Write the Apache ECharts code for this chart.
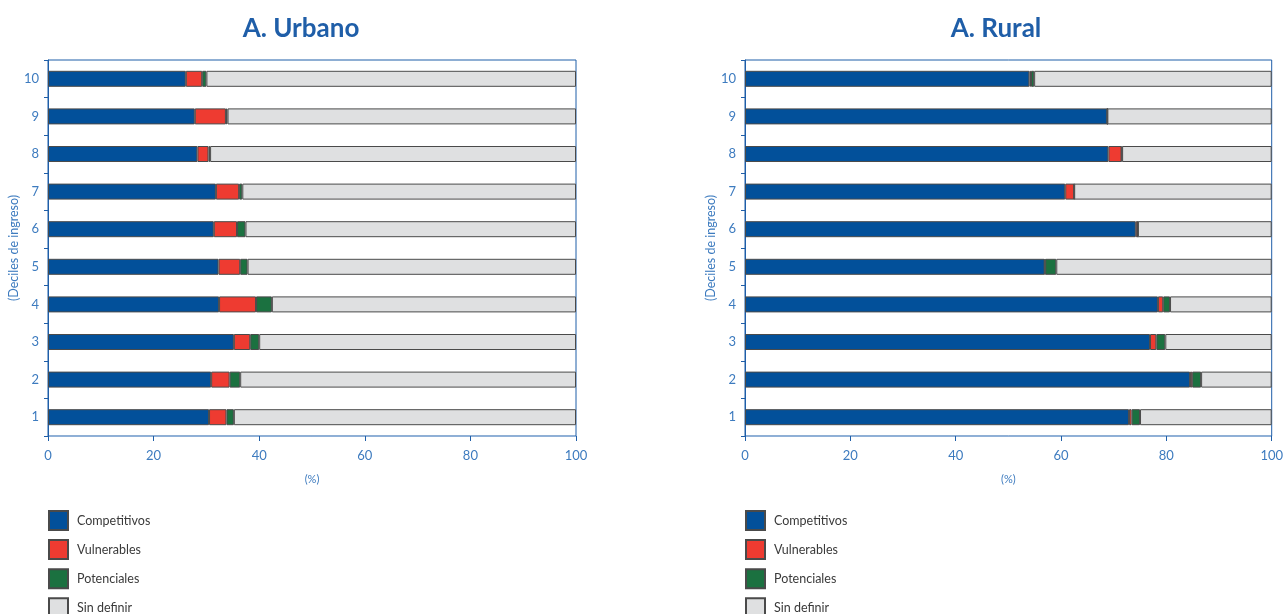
<!DOCTYPE html>
<html lang="es">
<head>
<meta charset="utf-8">
<title>Deciles de ingreso</title>
<script src="https://cdn.jsdelivr.net/npm/echarts@6/dist/echarts.min.js"></script>
<style>
	html,body{margin:0;padding:0;background:#fff;}
	#chart{width:1286px;height:614px;}
</style>
</head>
<body>
<div id="chart"></div>
<script>
// deciles 1..10 (de abajo hacia arriba)
var deciles=['1','2','3','4','5','6','7','8','9','10'];
var xTicks=[0,20,40,60,80,100];
var seriesNames=['Competitivos','Vulnerables','Potenciales','Sin definir'];

// A. Urbano (%)
var urbCompetitivos=[30.5,30.9,35.2,32.4,32.3,31.4,31.8,28.3,27.8,26.1];
var urbVulnerables=[3.3,3.5,3.1,7.0,4.1,4.4,4.4,2.1,5.9,3.1];
var urbPotenciales=[1.4,2.0,1.7,3.0,1.4,1.6,0.6,0.3,0.3,0.8];
var urbSinDefinir=[64.8,63.6,60.0,57.6,62.2,62.6,63.2,69.3,66.0,70.0];

// A. Rural (%)
var rurCompetitivos=[72.9,84.5,76.9,78.4,56.9,74.2,60.8,69.0,68.8,54.0];
var rurVulnerables=[0.5,0.4,1.2,1.0,0.1,0.4,1.7,2.5,0.0,0.3];
var rurPotenciales=[1.6,1.7,1.7,1.3,2.1,0.0,0.0,0.1,0.0,0.6];
var rurSinDefinir=[25.0,13.4,20.2,19.3,40.9,25.4,37.5,28.4,31.2,45.1];

var colores=['#02509a','#ee3b31','#1b7140','#dfe0e1'];
var azul='#1f5ea8';
var azulClaro='#3d7bbf';
var fuente='Lato, "Open Sans", sans-serif';

function xAxis(idx){
	return {
		type:'value',gridIndex:idx,min:0,max:100,interval:20,
		name:'(%)',nameLocation:'middle',nameGap:38,
		nameTextStyle:{color:azulClaro,fontSize:11,fontFamily:fuente},
		axisLine:{show:true,lineStyle:{color:'#8fb0d8',width:1}},
		axisTick:{show:true,length:5,lineStyle:{color:azul}},
		axisLabel:{color:azulClaro,fontSize:13,margin:13,fontFamily:fuente,
			formatter:function(v){return xTicks.indexOf(v)>=0?String(v):'';}},
		splitLine:{show:false}
	};
}
function yAxis(idx){
	return {
		type:'category',gridIndex:idx,data:deciles,
		name:'(Deciles de ingreso)',nameLocation:'middle',nameGap:25,nameRotate:90,
		nameTextStyle:{color:azulClaro,fontSize:12.5,fontFamily:fuente},
		axisLine:{show:true,lineStyle:{color:azul,width:1}},
		axisTick:{show:true,length:4,alignWithLabel:false,lineStyle:{color:azul}},
		axisLabel:{color:azulClaro,fontSize:13,margin:9,fontFamily:fuente}
	};
}
function serie(nombre,datos,idx,pila){
	return {
		name:nombre,type:'bar',stack:pila,xAxisIndex:idx,yAxisIndex:idx,
		data:datos,barWidth:16,
		itemStyle:{color:colores[seriesNames.indexOf(nombre)],borderColor:'#4a4a4a',borderWidth:1},
		emphasis:{disabled:true}
	};
}
function leyenda(x){
	return {
		orient:'vertical',left:x,top:510,height:160,padding:0,
		itemWidth:19,itemHeight:19,itemGap:8.1,
		icon:'rect',data:seriesNames,selectedMode:false,
		textStyle:{color:'#3a3a3a',fontSize:12.5,lineHeight:16,fontFamily:fuente,padding:[0,0,0,4]}
	};
}

var chart=echarts.init(document.getElementById('chart'));
chart.setOption({
	animation:false,
	title:[
		{text:'A. Urbano',left:296,top:11,textAlign:'center',
			textStyle:{color:azul,fontSize:26,fontWeight:'bold',fontFamily:fuente}},
		{text:'A. Rural',left:991,top:11,textAlign:'center',
			textStyle:{color:azul,fontSize:26,fontWeight:'bold',fontFamily:fuente}}
	],
	legend:[leyenda(48),leyenda(745)],
	grid:[
		{left:48,width:528,top:60,height:376,show:true,borderColor:azul,borderWidth:1},
		{left:745,width:527,top:60,height:376,show:true,borderColor:azul,borderWidth:1}
	],
	xAxis:[xAxis(0),xAxis(1)],
	yAxis:[yAxis(0),yAxis(1)],
	series:[
		serie('Competitivos',urbCompetitivos,0,'u'),
		serie('Vulnerables',urbVulnerables,0,'u'),
		serie('Potenciales',urbPotenciales,0,'u'),
		serie('Sin definir',urbSinDefinir,0,'u'),
		serie('Competitivos',rurCompetitivos,1,'r'),
		serie('Vulnerables',rurVulnerables,1,'r'),
		serie('Potenciales',rurPotenciales,1,'r'),
		serie('Sin definir',rurSinDefinir,1,'r')
	]
});
</script>
</body>
</html>
